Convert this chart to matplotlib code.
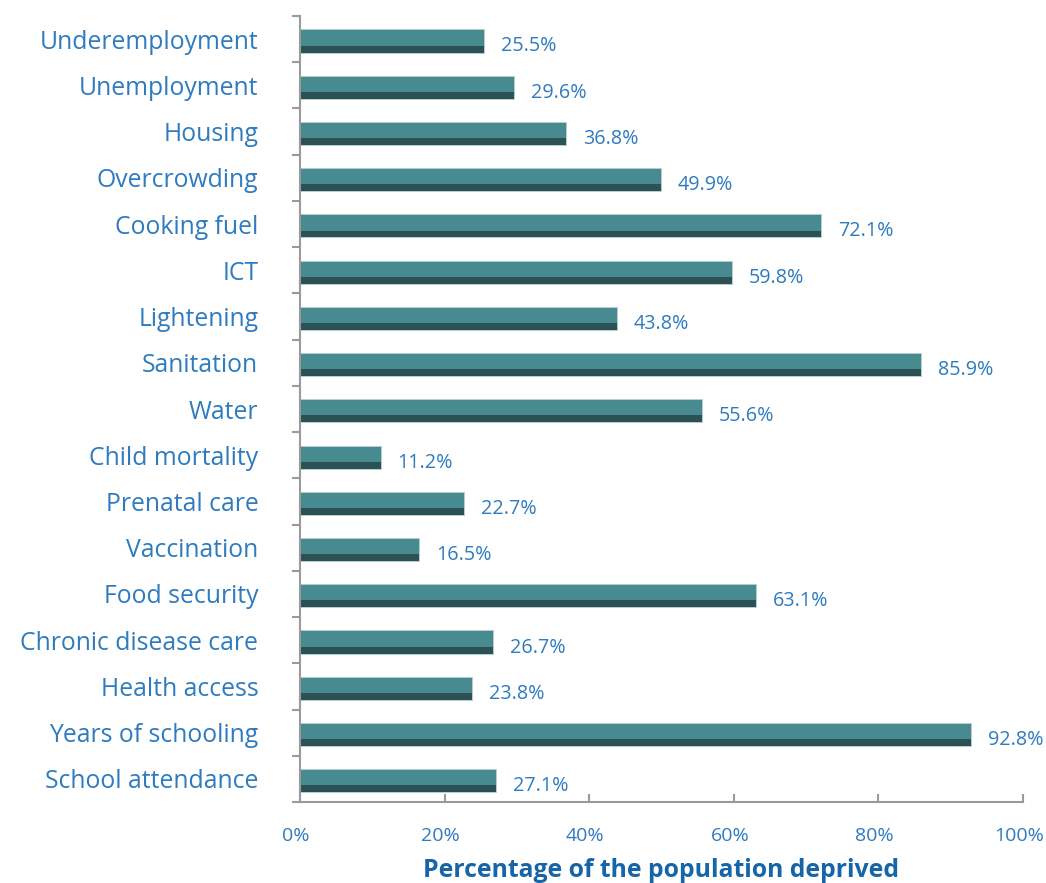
import matplotlib.pyplot as plt
import matplotlib.transforms as mtransforms
import numpy as np

categories = ["Underemployment", "Unemployment", "Housing", "Overcrowding",
              "Cooking fuel", "ICT", "Lightening", "Sanitation", "Water",
              "Child mortality", "Prenatal care", "Vaccination", "Food security",
              "Chronic disease care", "Health access", "Years of schooling",
              "School attendance"]
values = [25.5, 29.6, 36.8, 49.9, 72.1, 59.8, 43.8, 85.9, 55.6,
          11.2, 22.7, 16.5, 63.1, 26.7, 23.8, 92.8, 27.1]
xticks = [0, 20, 40, 60, 80, 100]

plt.rcParams['font.family'] = ['Open Sans', 'DejaVu Sans']

blue = "#2E7BBF"
light = "#478A8F"
dark = "#2C5155"
spine = "#9A9A9A"

fig = plt.figure(figsize=(10.46, 8.83), dpi=100)
ax = fig.add_axes([0.2868, 0.0917, 0.6912, 0.8902])

y = np.arange(len(categories))
ax.barh(y + 0.04, values, height=0.5, color=light, edgecolor="#B9CFD0", linewidth=0.6)
ax.barh(y + 0.215, values, height=0.15, color=dark, linewidth=0)

for yi, v in zip(y, values):
    ax.annotate(f"{v}%", xy=(v, yi + 0.16), xytext=(12, 0), textcoords="offset points",
                ha="left", va="center", color=blue, fontsize=14.2)

ax.set_ylim(len(categories) - 0.5, -0.5)
ax.set_xlim(0, 100)
ax.set_yticks(np.arange(len(categories) + 1) - 0.5)
ax.set_yticklabels([])
ax.set_yticks(y, minor=True)
ax.set_yticklabels(categories, minor=True, color=blue, fontsize=17.8)
ax.tick_params(axis="y", which="minor", length=0, pad=30)
ax.tick_params(axis="y", which="major", length=6, direction="out", color=spine, width=1.5)

ax.set_xticks(xticks)
ax.set_xticklabels([f"{t}%" for t in xticks], color=blue, fontsize=14)
ax.tick_params(axis="x", length=6, direction="in", color=spine, width=1.5, pad=18)
shift = mtransforms.ScaledTranslation(-4 / 100, 0, fig.dpi_scale_trans)
for lbl in ax.get_xticklabels():
    lbl.set_transform(lbl.get_transform() + shift)

for s in ["top", "right"]:
    ax.spines[s].set_visible(False)
for s in ["left", "bottom"]:
    ax.spines[s].set_color(spine)
    ax.spines[s].set_linewidth(1.5)

ax.set_xlabel("Percentage of the population deprived", color="#1565A8",
              fontsize=17.8, fontweight="bold", labelpad=9)

fig.savefig("out.png", dpi=100, facecolor="white")
